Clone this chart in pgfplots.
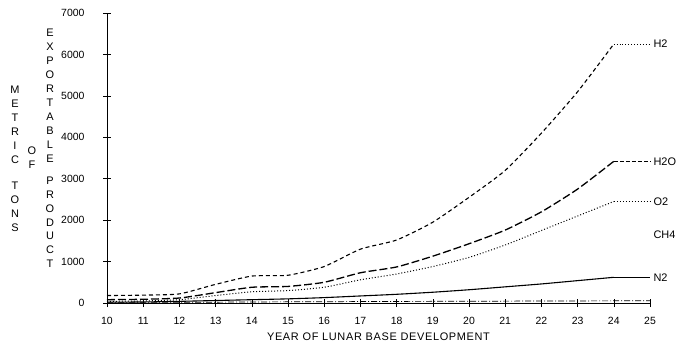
\documentclass[border=0pt]{standalone}
\usepackage{pgfplots}
\pgfplotsset{compat=1.18}
\usepackage{fontspec}
\setmainfont{Liberation Sans}
\begin{document}
\begin{tikzpicture}
\useasboundingbox (0,0) rectangle (678bp,347bp);
\begin{axis}[
  at={(107bp,44bp)}, anchor=south west,
  scale only axis, width=543bp, height=290bp,
  xmin=10, xmax=25, ymin=0, ymax=7000,
  axis lines*=left,
  xtick={10,...,25}, ytick={0,1000,...,7000},
  tick align=center, major tick length=8bp,
  tick style={black, line width=0.6bp},
  axis line style={line width=0.6bp},
  /pgf/number format/assume math mode=true,
  /pgf/number format/1000 sep={},
  ticklabel style={font=\fontsize{10.5}{13}\selectfont},
  xticklabel style={yshift=-7bp},
  yticklabel style={xshift=-15bp},
  xlabel={YEAR OF LUNAR BASE DEVELOPMENT},
  xlabel style={font=\fontsize{11}{13}\selectfont\addfontfeatures{LetterSpace=6}, yshift=-1bp},
  clip=false,
]
% H2
\addplot[black, line width=1.1bp, dash pattern=on 4bp off 3bp, smooth, tension=0.35] coordinates {
(10,180) (11,190) (12,220) (13,450) (14,650) (15,670) (16,880) (17,1300) (18,1520) (19,1950) (20,2550) (21,3200) (22,4100) (23,5100) (24,6250)};
\addplot[black, line width=0.9bp, dotted] coordinates {(24,6250) (25,6250)};
% H2O
\addplot[black, line width=1.3bp, dash pattern=on 8bp off 3bp, smooth, tension=0.35] coordinates {
(10,80) (11,90) (12,120) (13,250) (14,380) (15,400) (16,500) (17,730) (18,870) (19,1130) (20,1430) (21,1760) (22,2200) (23,2750) (24,3420)};
\addplot[black, line width=1.1bp, dash pattern=on 4bp off 2bp] coordinates {(24,3420) (25,3420)};
% O2
\addplot[black, line width=1bp, dotted, smooth, tension=0.35] coordinates {
(10,40) (11,50) (12,80) (13,180) (14,270) (15,300) (16,380) (17,560) (18,700) (19,880) (20,1100) (21,1400) (22,1750) (23,2100) (24,2450)};
\addplot[black, line width=1bp, dotted] coordinates {(24,2450) (25,2450)};
% CH4
\addplot[black, line width=0.7bp, dash pattern=on 6bp off 2bp on 1bp off 2bp] coordinates {
(10,15) (11,15) (12,18) (13,20) (14,25) (15,28) (16,30) (17,35) (18,38) (19,40) (20,42) (21,45) (22,48) (23,50) (24,52) (25,52)};
% N2
\addplot[black, line width=1.1bp, smooth, tension=0.35] coordinates {
(10,20) (11,25) (12,40) (13,60) (14,80) (15,100) (16,130) (17,170) (18,210) (19,260) (20,320) (21,390) (22,460) (23,540) (24,620)};
\addplot[black, line width=1.1bp] coordinates {(24,620) (25,620)};
\node[anchor=west, font=\fontsize{11}{13}\selectfont] at (axis cs:25,6250) {H2};
\node[anchor=west, font=\fontsize{11}{13}\selectfont] at (axis cs:25,3420) {H2O};
\node[anchor=west, font=\fontsize{11}{13}\selectfont] at (axis cs:25,2450) {O2};
\node[anchor=west, font=\fontsize{11}{13}\selectfont] at (axis cs:25,1650) {CH4};
\node[anchor=west, font=\fontsize{11}{13}\selectfont] at (axis cs:25,620) {N2};
\end{axis}
\node[align=center, font=\fontsize{11}{14}\selectfont] at (15bp,188bp) {M\\E\\T\\R\\I\\C\\[12bp]T\\O\\N\\S};
\node[align=center, font=\fontsize{11}{14}\selectfont] at (32bp,189.5bp) {O\\F};
\node[align=center, font=\fontsize{11}{14}\selectfont] at (50bp,198.5bp) {E\\X\\P\\O\\R\\T\\A\\B\\L\\E\\[8bp]P\\R\\O\\D\\U\\C\\T};
\end{tikzpicture}
\end{document}
